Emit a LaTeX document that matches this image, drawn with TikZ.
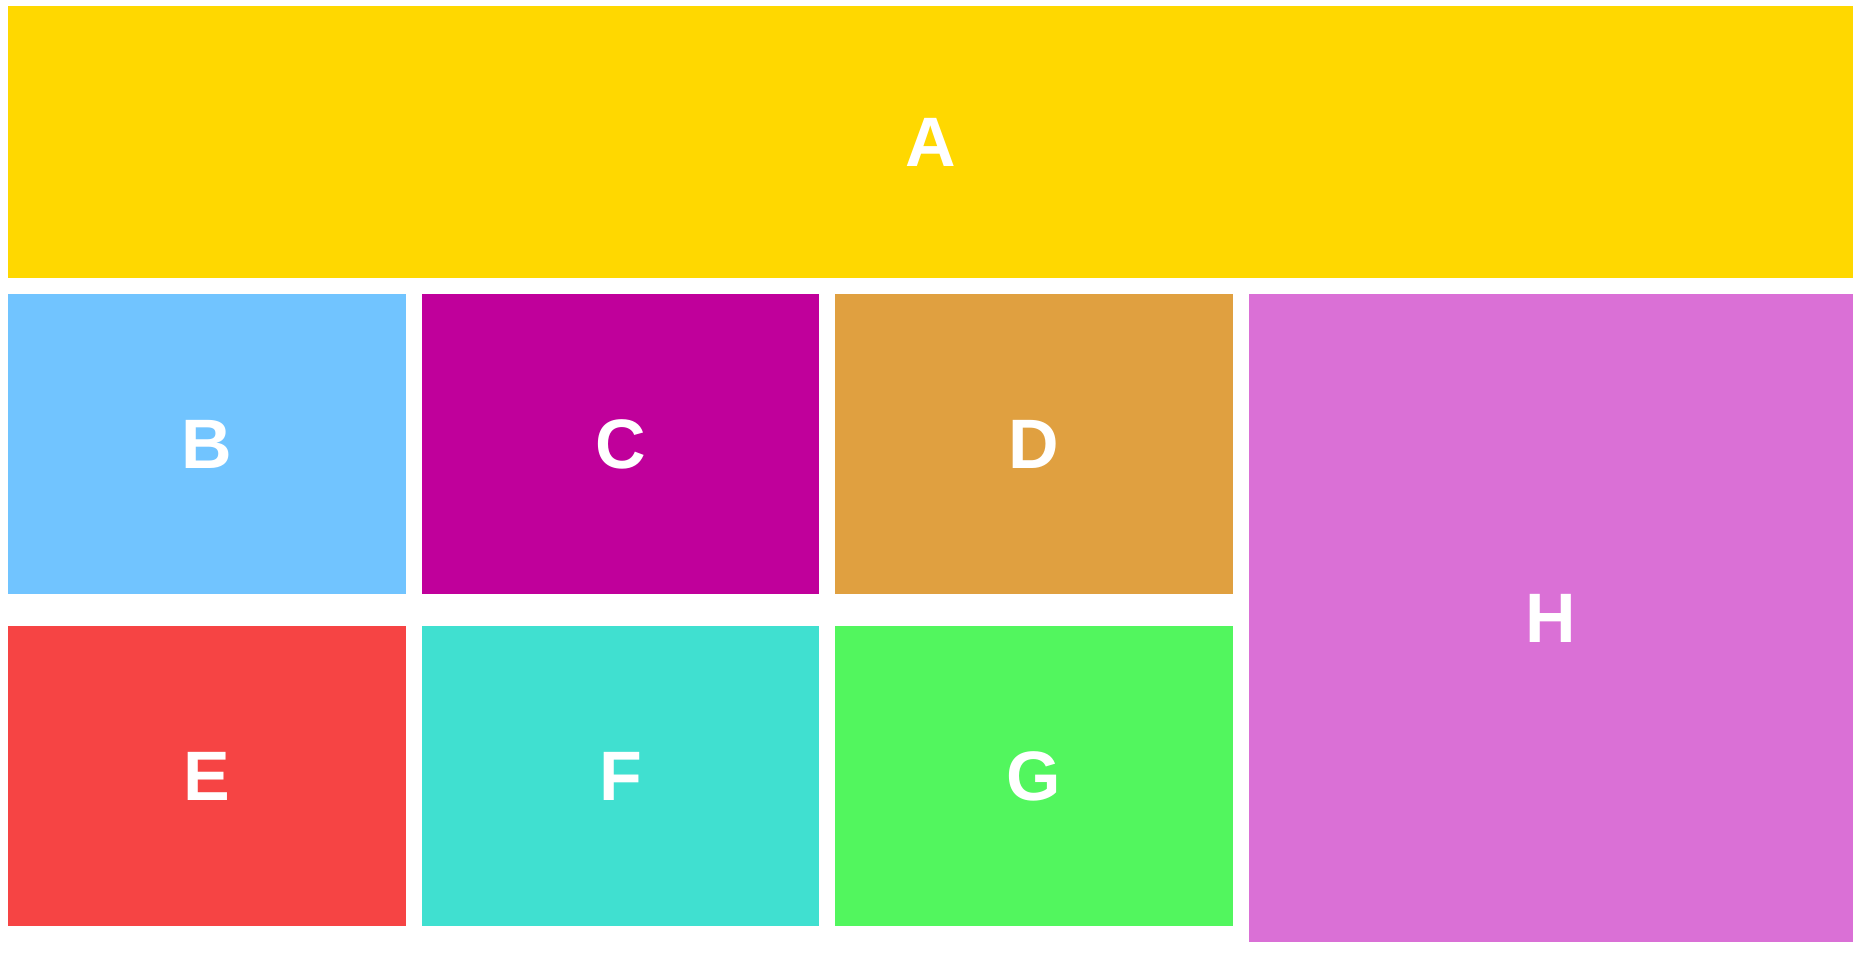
\documentclass[tikz,border=0pt]{standalone}
\usepackage{fontspec}
\setmainfont{Liberation Sans}
\definecolor{cA}{HTML}{FFD800}
\definecolor{cB}{HTML}{71C4FF}
\definecolor{cC}{HTML}{C0009B}
\definecolor{cD}{HTML}{E0A040}
\definecolor{cE}{HTML}{F64444}
\definecolor{cF}{HTML}{40E0D0}
\definecolor{cG}{HTML}{52F65E}
\definecolor{cH}{HTML}{DA70D6}
\tikzset{
  tile/.style={draw=none, inner sep=0pt, outer sep=0pt, anchor=north west, text=white,
    font=\fontsize{70}{70}\selectfont\bfseries},
}
\begin{document}
\begin{tikzpicture}[x=1pt,y=-1pt]
\useasboundingbox (0,0) rectangle (1864,970);
\fill[white] (0,0) rectangle (1864,970);
\node[tile, fill=cA, minimum width=1845pt, minimum height=272pt] (A) at (8,6) {A};
\node[tile, fill=cB, minimum width=398pt, minimum height=300pt] (B) at (8,294) {B};
\node[tile, fill=cC, minimum width=397pt, minimum height=300pt] (C) at (422,294) {C};
\node[tile, fill=cD, minimum width=398pt, minimum height=300pt] (D) at (835,294) {D};
\node[tile, fill=cE, minimum width=398pt, minimum height=300pt] (E) at (8,626) {E};
\node[tile, fill=cF, minimum width=397pt, minimum height=300pt] (F) at (422,626) {F};
\node[tile, fill=cG, minimum width=398pt, minimum height=300pt] (G) at (835,626) {G};
\node[tile, fill=cH, minimum width=604pt, minimum height=648pt] (H) at (1249,294) {H};
\end{tikzpicture}
\end{document}
